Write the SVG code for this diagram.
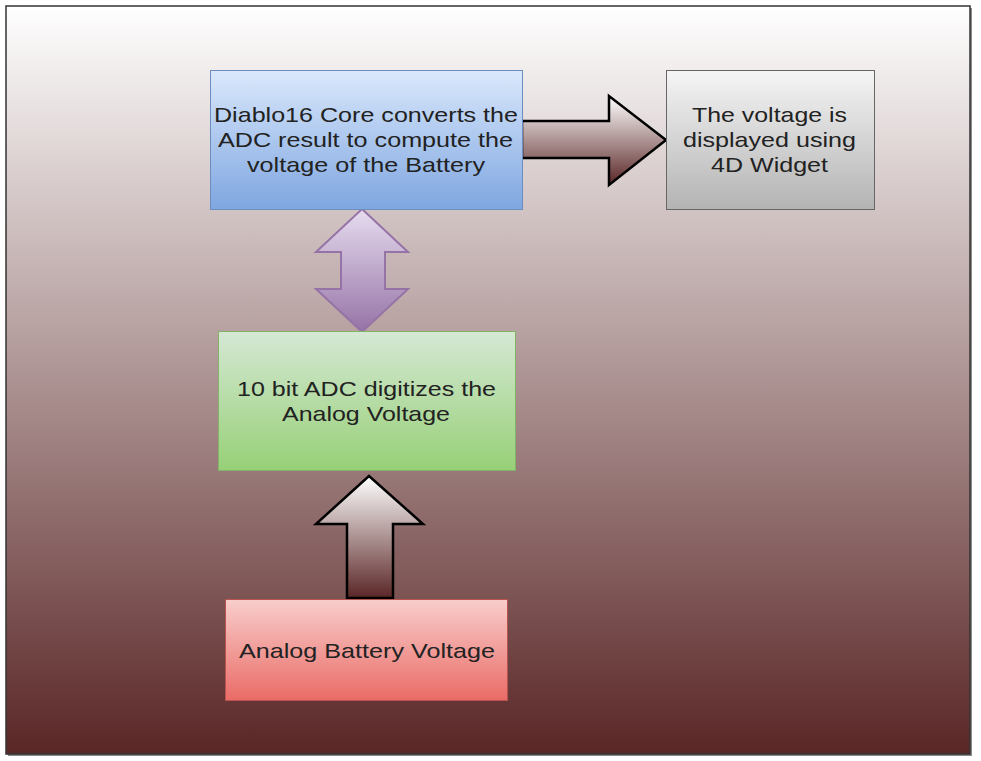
<svg xmlns="http://www.w3.org/2000/svg" width="981" height="761" viewBox="0 0 981 761">
<defs>
<linearGradient id="bg" x1="0" y1="0" x2="0" y2="1"><stop offset="0" stop-color="#ffffff"/><stop offset="1" stop-color="#5a2626"/></linearGradient>
<linearGradient id="gBlue" x1="0" y1="0" x2="0" y2="1"><stop offset="0" stop-color="#dae8fc"/><stop offset="1" stop-color="#7ea6e0"/></linearGradient>
<linearGradient id="gGray" x1="0" y1="0" x2="0" y2="1"><stop offset="0" stop-color="#f5f5f5"/><stop offset="1" stop-color="#b3b3b3"/></linearGradient>
<linearGradient id="gGreen" x1="0" y1="0" x2="0" y2="1"><stop offset="0" stop-color="#d5e8d4"/><stop offset="1" stop-color="#97d077"/></linearGradient>
<linearGradient id="gRed" x1="0" y1="0" x2="0" y2="1"><stop offset="0" stop-color="#f8cecc"/><stop offset="1" stop-color="#ea6b66"/></linearGradient>
<linearGradient id="gPurple" x1="0" y1="0" x2="0" y2="1"><stop offset="0" stop-color="#e6dcef"/><stop offset="1" stop-color="#9673a6"/></linearGradient>
<linearGradient id="gArrow" x1="0" y1="0" x2="0" y2="1"><stop offset="0" stop-color="#ffffff"/><stop offset="1" stop-color="#5a2626"/></linearGradient>
</defs>
<style>
.t{font-family:"Liberation Sans",Arial,sans-serif;font-size:21px;fill:#222222;text-anchor:middle;dominant-baseline:central}
.big{stroke:#000;stroke-width:2.5;stroke-linejoin:miter}
</style>
<rect x="8" y="8" width="964" height="748" fill="#8a8a8a"/>
<rect x="6" y="6" width="964" height="748" fill="url(#bg)" stroke="#333" stroke-width="1.5"/>
<g id="connectors">
<path class="big" fill="url(#gArrow)" d="M522,121 L609,121 L609,96 L666,140 L609,185 L609,158 L522,158 Z"/>
<path fill="url(#gPurple)" stroke="#9673a6" stroke-width="2" d="M362,209 L408,252 L385,252 L385,289 L408,289 L362,332 L316,289 L341,289 L341,252 L316,252 Z"/>
<path class="big" fill="url(#gArrow)" d="M369,476 L423,524 L393,524 L393,598 L347,598 L347,524 L316,524 Z"/>
</g>
<g id="core">
<rect x="210.5" y="70.5" width="312" height="139" fill="url(#gBlue)" stroke="#6c8ebf"/>
<text class="t" x="366" y="114" textLength="304" lengthAdjust="spacingAndGlyphs">Diablo16 Core converts the</text>
<text class="t" x="365.5" y="139" textLength="295" lengthAdjust="spacingAndGlyphs">ADC result to compute the</text>
<text class="t" x="366" y="164" textLength="238" lengthAdjust="spacingAndGlyphs">voltage of the Battery</text>
</g>
<g id="widget">
<rect x="666.5" y="70.5" width="208" height="139" fill="url(#gGray)" stroke="#666666"/>
<text class="t" x="769.5" y="114" textLength="155" lengthAdjust="spacingAndGlyphs">The voltage is</text>
<text class="t" x="769.5" y="139" textLength="173" lengthAdjust="spacingAndGlyphs">displayed using</text>
<text class="t" x="769.5" y="164" textLength="117" lengthAdjust="spacingAndGlyphs">4D Widget</text>
</g>
<g id="adc">
<rect x="218.5" y="331.5" width="297" height="139" fill="url(#gGreen)" stroke="#82b366"/>
<text class="t" x="366.5" y="388" textLength="259" lengthAdjust="spacingAndGlyphs">10 bit ADC digitizes the</text>
<text class="t" x="366" y="413" textLength="168" lengthAdjust="spacingAndGlyphs">Analog Voltage</text>
</g>
<g id="battery">
<rect x="225.5" y="599.5" width="282" height="101" fill="url(#gRed)" stroke="#b85450"/>
<text class="t" x="367" y="650" textLength="256" lengthAdjust="spacingAndGlyphs">Analog Battery Voltage</text>
</g>
</svg>
